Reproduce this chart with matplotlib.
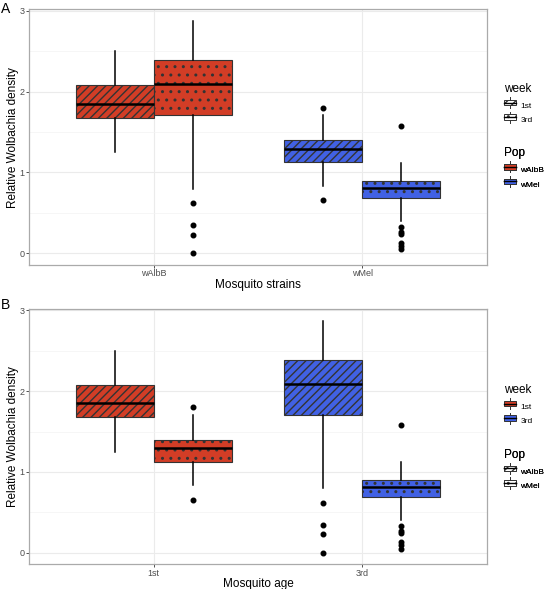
import matplotlib
matplotlib.use("Agg")
import matplotlib.pyplot as plt
from matplotlib.patches import Patch, Rectangle
from matplotlib.lines import Line2D
from matplotlib.legend_handler import HandlerBase

plt.rcParams['font.family'] = ['Liberation Sans', 'DejaVu Sans']
plt.rcParams['hatch.linewidth'] = 1.0

# ---- data ----
pops = ["wAlbB", "wMel"]
weeks = ["1st", "3rd"]
# five-number summaries: whisker low, Q1, median, Q3, whisker high
wAlbB_1st = [1.25, 1.675, 1.85, 2.08, 2.50]
wAlbB_3rd = [0.80, 1.71, 2.09, 2.385, 2.87]
wMel_1st = [0.835, 1.125, 1.295, 1.40, 1.71]
wMel_3rd = [0.40, 0.685, 0.81, 0.90, 1.12]
# outliers
wAlbB_1st_out = []
wAlbB_3rd_out = [0.62, 0.345, 0.23, 0.0]
wMel_1st_out = [1.80, 0.655]
wMel_3rd_out = [1.575, 0.33, 0.27, 0.24, 0.13, 0.09, 0.05]

summ = {("wAlbB", "1st"): (wAlbB_1st, wAlbB_1st_out),
        ("wAlbB", "3rd"): (wAlbB_3rd, wAlbB_3rd_out),
        ("wMel", "1st"): (wMel_1st, wMel_1st_out),
        ("wMel", "3rd"): (wMel_3rd, wMel_3rd_out)}

red = "#d23d26"
blue = "#4161e4"
edge = "#333333"
hatches = {"first": "////", "second": ".."}


class BoxKey(HandlerBase):
	def create_artists(self, legend, orig, xd, yd, w, h, fontsize, trans):
		x0 = xd + 0.05*w
		bw = 0.9*w
		r = Rectangle((x0, yd + 0.15*h), bw, 0.7*h, facecolor=orig.get_facecolor(),
					  edgecolor=edge, hatch=orig.get_hatch(), lw=0.7, transform=trans)
		med = Line2D([x0, x0 + bw], [yd + 0.5*h]*2, color="black", lw=1.0, transform=trans)
		lo = Line2D([xd + 0.5*w]*2, [yd - 0.2*h, yd + 0.15*h], color=edge, lw=0.7, transform=trans)
		hi = Line2D([xd + 0.5*w]*2, [yd + 0.85*h, yd + 1.2*h], color=edge, lw=0.7, transform=trans)
		return [r, med, lo, hi]


def stats(key):
	s, out = summ[key]
	return dict(whislo=s[0], q1=s[1], med=s[2], q3=s[3], whishi=s[4], fliers=out)


def panel(ax, groups, dodge, colors, pats, xlabel):
	for gi, g in enumerate(groups):
		for di, d in enumerate(dodge):
			key = (g, d) if g in pops else (d, g)
			pos = gi + 1 + (di - 0.5)*0.375
			b = ax.bxp([stats(key)], positions=[pos], widths=0.375, patch_artist=True,
					   showcaps=False, manage_ticks=False,
					   boxprops=dict(edgecolor=edge, lw=0.8),
					   medianprops=dict(color="black", lw=1.8),
					   whiskerprops=dict(color="black", lw=1.1),
					   flierprops=dict(marker="o", markerfacecolor="black",
									   markeredgecolor="black", markersize=3.3))
			bx = b["boxes"][0]
			bx.set_facecolor(colors[key])
			bx.set_hatch(pats[key])
			bx.set_zorder(2)
	ax.set_xlim(0.4, 2.6)
	ax.set_ylim(-0.1435, 3.0135)
	ax.set_xticks([1, 2])
	ax.set_xticklabels(groups)
	ax.set_yticks([0, 1, 2, 3])
	ax.set_yticks([0.5, 1.5, 2.5], minor=True)
	ax.grid(True, which="major", color="#ebebeb", lw=0.8, zorder=0)
	ax.grid(True, which="minor", axis="y", color="#f3f3f3", lw=0.5, zorder=0)
	ax.set_axisbelow(True)
	ax.tick_params(which="major", length=2, width=0.6, color="#333333",
				   labelsize=6.5, labelcolor="#4d4d4d", pad=1.2)
	ax.tick_params(which="minor", length=0)
	for sp in ax.spines.values():
		sp.set_color("#aaaaaa")
		sp.set_linewidth(0.9)
	ax.set_ylabel("Relative Wolbachia density", fontsize=8.5)
	ax.set_xlabel(xlabel, fontsize=8.5)
	ax.yaxis.set_label_coords(-0.021, 0.5)
	ax.xaxis.set_label_coords(0.5, -0.053)


fig = plt.figure(figsize=(5.44, 5.89), dpi=100)
axA = fig.add_axes([0.0528, 0.5501, 0.843, 0.4338])
axB = fig.add_axes([0.0528, 0.0419, 0.843, 0.4330])

colA = {(p, w): (red if p == "wAlbB" else blue) for p in pops for w in weeks}
patA = {(p, w): (hatches["first"] if w == "1st" else hatches["second"]) for p in pops for w in weeks}
panel(axA, pops, weeks, colA, patA, "Mosquito strains")

colB = {(p, w): (red if w == "1st" else blue) for p in pops for w in weeks}
patB = {(p, w): (hatches["first"] if p == "wAlbB" else hatches["second"]) for p in pops for w in weeks}
panel(axB, weeks, pops, colB, patB, "Mosquito age")

fig.text(0.002, 0.985, "A", fontsize=10, va="center", ha="left")
fig.text(0.002, 0.483, "B", fontsize=10, va="center", ha="left")


def add_legend(ax, title, labels, faces, pats, ytop):
	hs = [Patch(facecolor=f, hatch=p) for f, p in zip(faces, pats)]
	lg = ax.legend(hs, labels, title=title, handler_map={Patch: BoxKey()},
				   loc="upper left", bbox_to_anchor=(0.918, ytop),
				   bbox_transform=fig.transFigure, frameon=False, fontsize=6,
				   title_fontsize=8.5, handlelength=1.6, handleheight=1.1,
				   handletextpad=0.4, labelspacing=0.7, borderpad=0, alignment="left")
	ax.add_artist(lg)


add_legend(axA, "week", weeks, ["white", "white"], [hatches["first"], hatches["second"]], 0.866)
add_legend(axA, "Pop", pops, [red, blue], ["", ""], 0.757)
add_legend(axB, "week", weeks, [red, blue], ["", ""], 0.355)
add_legend(axB, "Pop", pops, ["white", "white"], [hatches["first"], hatches["second"]], 0.245)

fig.savefig("out.png", dpi=100)
